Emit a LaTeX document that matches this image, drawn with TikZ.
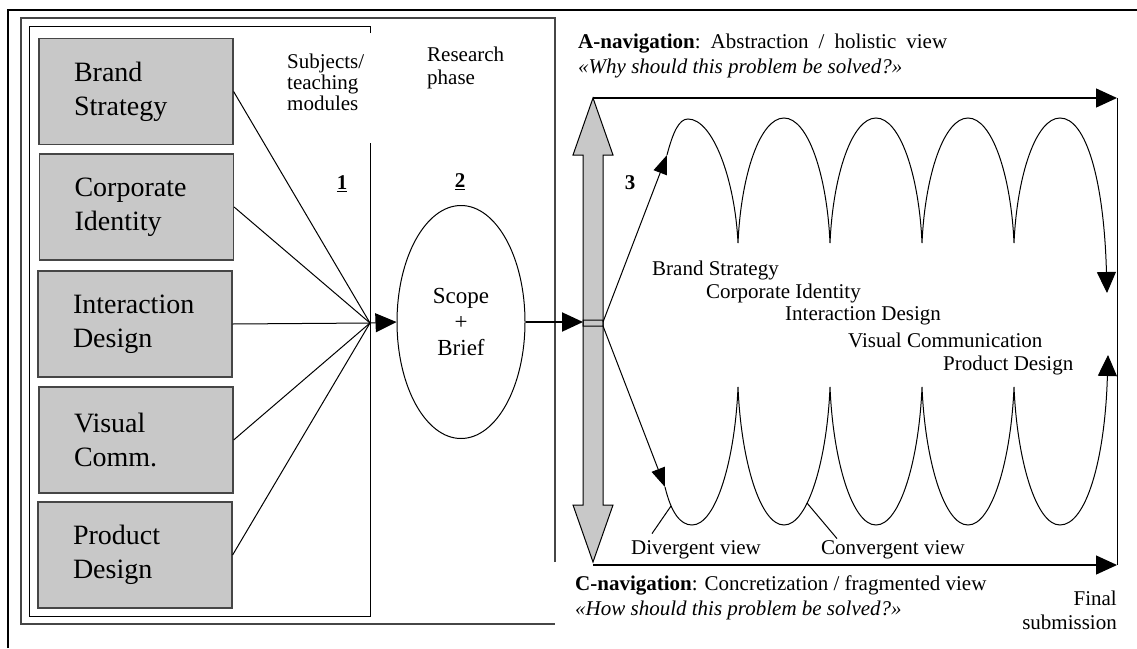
\documentclass[tikz,border=0pt]{standalone}
\usepackage{fontspec}
\setmainfont{Liberation Serif}
\usetikzlibrary{arrows.meta,shapes.geometric,calc}
\definecolor{boxgray}{RGB}{200,200,200}
\definecolor{framegray}{RGB}{70,70,70}
\begin{document}
\begin{tikzpicture}[x=1pt,y=-1pt,
  tip/.style={-{Triangle[length=21pt,width=19pt]}},
  smalltip/.style={-{Triangle[length=19pt,width=14pt]}},
  gbox/.style={draw=framegray, line width=1.2pt, fill=boxgray, minimum width=194pt, minimum height=106pt, text width=124pt, inner xsep=0pt, align=left, font=\fontsize{28}{34}\selectfont},
  lbl/.style={font=\fontsize{21}{23}\selectfont, inner sep=0pt},
  thin/.style={line width=1pt},
]
\useasboundingbox (0,0) rectangle (1137,648);

% frames
\draw[line width=2pt] (8,648) -- (8,10) -- (1137,10);
\draw[framegray, line width=1.2pt] (555,562) -- (555,18) -- (21,18) -- (21,624) -- (555,624);
\draw[line width=1pt] (370,33) -- (370,26) -- (29,26) -- (29,616) -- (370,616) -- (370,143);

% subject boxes
\node[gbox] (b1) at (136,91.5) {Brand\\Strategy};
\node[gbox] (b2) at (136.5,207) {Corporate\\Identity};
\node[gbox] (b3) at (135,324) {Interaction\\Design};
\node[gbox] (b4) at (136,440) {Visual\\Comm.};
\node[gbox] (b5) at (135,555) {Product\\Design};

% labels left part
\node[lbl, anchor=west, align=left, font=\fontsize{21}{21}\selectfont] (subj) at (287,82) {Subjects/\\teaching\\modules};
\node[lbl, anchor=west, align=left, font=\fontsize{21}{23}\selectfont] (res) at (427,68) {Research\\phase};
\node[lbl] (n1) at (342,184) {\underline{\textbf{1}}};
\node[lbl] (n2) at (460,182) {\underline{\textbf{2}}};
\node[lbl] (n3) at (630,183) {\textbf{3}};

% ellipse
\node[draw, thin, ellipse, minimum width=128pt, minimum height=233pt, inner sep=0pt, align=center, font=\fontsize{23}{26}\selectfont] (ell) at (461,322) {Scope\\+\\Brief};

\coordinate (conv) at (370,323);
\foreach \b in {b1,b2,b3,b4,b5} \draw[thin] (\b.east) -- (conv);
\draw[thin, tip] (conv) -- (ell.west);

% gray double arrow
\coordinate (gtop) at (593,98);
\coordinate (gbot) at (593,562);
\coordinate (gin) at (583,325);
\coordinate (gmidU) at (603,322);
\coordinate (gmidD) at (603,326);
\fill[boxgray] (583,326) -- (583,155) -- (573,155) -- (gtop) -- (613,155) -- (603,155) -- (603,326) -- cycle;
\fill[boxgray] (583,320) -- (583,505) -- (573,505) -- (gbot) -- (613,505) -- (603,505) -- (603,320) -- cycle;
\draw[thin] (583,326) -- (583,155) -- (573,155) -- (gtop) -- (613,155) -- (603,155) -- (603,326) -- cycle;
\draw[thin] (583,320) -- (583,505) -- (573,505) -- (gbot) -- (613,505) -- (603,505) -- (603,320) -- cycle;

\draw[line width=2pt, tip] (ell.east) -- (ell.east -| gin);

% frame of navigation
\coordinate (tr) at (1117,98);
\coordinate (br) at (1117,565);
\coordinate (bl) at (593,565);
\draw[line width=1.3pt, tip] (gtop) -- (tr);
\draw[thin] (tr) -- (br);
\draw[line width=1.3pt, tip] (bl) -- (br);

% start arrows
\coordinate (c1s) at (667,155);
\coordinate (c2s) at (665,487);
\draw[thin, smalltip] (gmidU) -- (c1s);
\draw[thin, smalltip] (gmidD) -- (c2s);

% top loops
\draw[thin, tip] (c1s) .. controls (673,132) and (679,119) .. (688,119)
  .. controls (713,119) and (735,180) .. (738,243)
  .. controls (741,175) and (760,118) .. (784,118) .. controls (808,118) and (827,175) .. (830,243)
  .. controls (833,175) and (852,118) .. (876,118) .. controls (900,118) and (919,175) .. (922,243)
  .. controls (925,175) and (944,118) .. (968,118) .. controls (992,118) and (1011,175) .. (1014,243)
  .. controls (1017,175) and (1036,118) .. (1060,118) .. controls (1086,118) and (1104,180) .. (1107,293);

% bottom loops
\draw[thin, tip] (c2s) .. controls (671,512) and (680,525) .. (692,525)
  .. controls (716,525) and (735,460) .. (738,387)
  .. controls (741,460) and (760,525) .. (784,525) .. controls (808,525) and (827,460) .. (830,387)
  .. controls (833,460) and (852,525) .. (876,525) .. controls (900,525) and (919,460) .. (922,387)
  .. controls (925,460) and (944,525) .. (968,525) .. controls (992,525) and (1011,460) .. (1014,387)
  .. controls (1017,460) and (1036,525) .. (1060,525) .. controls (1086,525) and (1105,460) .. (1108,355);

% subject labels inside loops
\node[lbl, anchor=west] (l1) at (652,270) {Brand Strategy};
\node[lbl, anchor=west] (l2) at (706,293) {Corporate Identity};
\node[lbl, anchor=west] (l3) at (785,316) {Interaction Design};
\node[lbl, anchor=west] (l4) at (848,340) {Visual Communication};
\node[lbl, anchor=west] (l5) at (943,365) {Product Design};

% divergent / convergent
\node[lbl] (div) at (696,550) {Divergent view};
\node[lbl] (cnv) at (893,550) {Convergent view};
\coordinate (dvA) at (671,506);
\coordinate (cvA) at (807,503);
\draw[thin] ($(div.north)+(-44,-7)$) -- (dvA);
\draw[thin] ($(cnv.north)+(-56,-2)$) -- (cvA);

% navigation texts
\node[lbl, anchor=west, align=left, font=\fontsize{21}{25}\selectfont] (anav) at (578,55.5)
  {\textbf{A-navigation}:\hspace{10pt}Abstraction\hspace{10pt}/\hspace{10pt}holistic\hspace{10pt}view\\\textit{«Why should this problem be solved?»}};
\node[lbl, anchor=west, align=left, font=\fontsize{21}{25}\selectfont] (cnav) at (575,597.5)
  {\textbf{C-navigation}: Concretization / fragmented view\\\textit{«How should this problem be solved?»}};
\node[lbl, anchor=east, align=right, font=\fontsize{21}{24}\selectfont] (fin) at (1117,610) {Final\\submission};
\end{tikzpicture}
\end{document}
